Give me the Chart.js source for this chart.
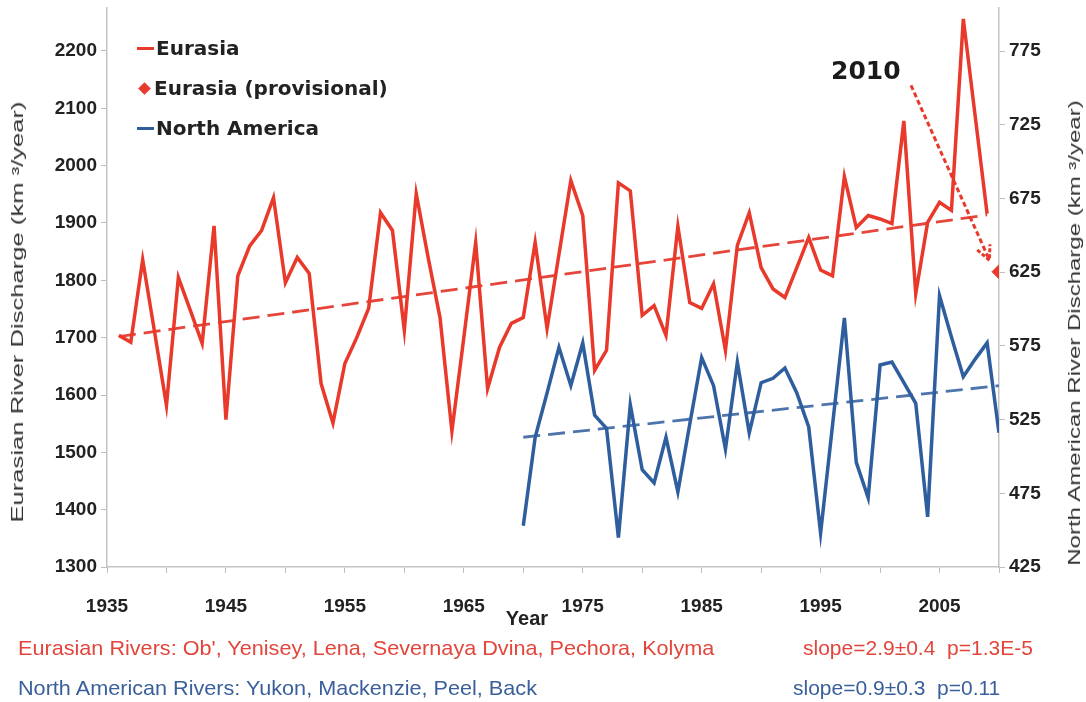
<!DOCTYPE html>
<html>
<head>
<meta charset="utf-8">
<script src="https://cdn.jsdelivr.net/npm/chart.js@4/dist/chart.umd.min.js"></script>
<style>
html,body{margin:0;padding:0;background:#fff;}
#wrap{position:relative;width:1086px;height:702px;overflow:hidden;background:#fff;}
#c{position:absolute;left:0;top:0;}
.t{position:absolute;white-space:nowrap;}
.leg{position:absolute;left:137px;font:bold 20px "DejaVu Sans",sans-serif;color:#222;display:flex;align-items:center;white-space:nowrap;transform:translateY(-50%);}
.sw{display:inline-block;width:17px;height:3px;margin-right:2px;}
.dia{display:inline-block;width:9px;height:9px;background:#e8392b;transform:rotate(45deg);margin:0 5px 0 3px;}
.ytitle{font:16px "Liberation Sans",Arial,sans-serif;color:#333;}
.cap{font:21px "Liberation Sans",Arial,sans-serif;transform-origin:0 50%;}
</style>
</head>
<body>
<div id="wrap">
  <canvas id="c" width="1086" height="702"></canvas>
  <div class="leg" style="top:48px"><span class="sw" style="background:#e8392b"></span>Eurasia</div>
  <div class="leg" style="top:88px"><span class="dia"></span>Eurasia (provisional)</div>
  <div class="leg" style="top:128px"><span class="sw" style="background:#2e5e9e"></span>North America</div>
  <div class="t ytitle" style="left:18px;top:312px;transform:translate(-50%,-50%) rotate(-90deg) scaleX(1.6)">Eurasian River Discharge (km ³/year)</div>
  <div class="t ytitle" style="left:1075px;top:333px;transform:translate(-50%,-50%) rotate(-90deg) scaleX(1.5)">North American River Discharge (km ³/year)</div>
  <div class="t" style="left:527px;top:618px;transform:translate(-50%,-50%);font:bold 20px 'Liberation Sans',Arial,sans-serif;color:#222">Year</div>
  <div class="t cap" style="left:18px;top:648px;color:#e2453b;transform:translateY(-50%) scaleX(1.03)">Eurasian Rivers: Ob', Yenisey, Lena, Severnaya Dvina, Pechora, Kolyma</div>
  <div class="t cap" style="left:803px;top:648px;color:#e2453b;transform:translateY(-50%)">slope=2.9±0.4&nbsp; p=1.3E-5</div>
  <div class="t cap" style="left:18px;top:688px;color:#3a5f9a;transform:translateY(-50%) scaleX(1.03)">North American Rivers: Yukon, Mackenzie, Peel, Back</div>
  <div class="t cap" style="left:793px;top:688px;color:#3a5f9a;transform:translateY(-50%)">slope=0.9±0.3&nbsp; p=0.11</div>
</div>
<script>
// ---- data ----
const eurasiaYears = [1936,1937,1938,1939,1940,1941,1942,1943,1944,1945,1946,1947,1948,1949,1950,1951,1952,1953,1954,1955,1956,1957,1958,1959,1960,1961,1962,1963,1964,1965,1966,1967,1968,1969,1970,1971,1972,1973,1974,1975,1976,1977,1978,1979,1980,1981,1982,1983,1984,1985,1986,1987,1988,1989,1990,1991,1992,1993,1994,1995,1996,1997,1998,1999,2000,2001,2002,2003,2004,2005,2006,2007,2008,2009];
const eurasiaValues = [1704,1692,1836,1710,1582,1805,1748,1690,1895,1557,1808,1860,1887,1944,1796,1840,1812,1620,1551,1655,1700,1751,1918,1887,1713,1951,1840,1735,1537,1700,1866,1611,1683,1725,1735,1866,1716,1845,1974,1913,1643,1678,1970,1956,1739,1756,1704,1894,1761,1751,1794,1678,1861,1918,1822,1785,1770,1822,1875,1818,1808,1981,1892,1913,1907,1899,2078,1777,1901,1936,1922,2256,2086,1916];
const provisionalYears = [2010];
const provisionalValues = [1815];
const eurasiaTrendYears = [1936, 2009];
const eurasiaTrendValues = [1702, 1914];

const naYears = [1970,1971,1972,1973,1974,1975,1976,1977,1978,1979,1980,1981,1982,1983,1984,1985,1986,1987,1988,1989,1990,1991,1992,1993,1994,1995,1996,1997,1998,1999,2000,2001,2002,2003,2004,2005,2006,2007,2008,2009,2010];
const naValues = [453,513,543,574,548,577,528,519,445,535,491,482,513,476,522,567,548,505,564,516,550,553,560,543,520,448,521,594,496,472,562,564,550,536,459,609,581,554,566,577,516];
const naTrendYears = [1970, 2010];
const naTrendValues = [513, 548];

const leftTicks = [1300,1400,1500,1600,1700,1800,1900,2000,2100,2200];
const rightTicks = [425,475,525,575,625,675,725,775];
const xLabelYears = [1935,1945,1955,1965,1975,1985,1995,2005];

// annotation anchor (data coords)
const noteText = '2010';
const noteAt = {year: 1998.8, value: 2163};
const arrowFrom = {year: 2002.6, value: 2140};
const arrowTo = {year: 2009.2, value: 1835};

const RED = '#e8392b', BLUE = '#2e5e9e';
const pts = (xs, ys) => xs.map((x, i) => ({x, y: ys[i]}));

const annot = {
  id: 'annot',
  afterDatasetsDraw(chart) {
    const {ctx, scales: {x, y}} = chart;
    ctx.save();
    ctx.font = 'bold 25px "DejaVu Sans", sans-serif';
    ctx.fillStyle = '#1a1a1a';
    ctx.textAlign = 'center';
    ctx.textBaseline = 'middle';
    ctx.fillText(noteText, x.getPixelForValue(noteAt.year), y.getPixelForValue(noteAt.value));
    const x0 = x.getPixelForValue(arrowFrom.year), y0 = y.getPixelForValue(arrowFrom.value);
    const x1 = x.getPixelForValue(arrowTo.year), y1 = y.getPixelForValue(arrowTo.value);
    ctx.strokeStyle = RED;
    ctx.lineWidth = 3;
    ctx.setLineDash([5, 3]);
    ctx.beginPath(); ctx.moveTo(x0, y0); ctx.lineTo(x1, y1); ctx.stroke();
    const a = Math.atan2(y1 - y0, x1 - x0), L = 16;
    ctx.setLineDash([4, 2]);
    ctx.beginPath();
    ctx.moveTo(x1 - L * Math.cos(a - 0.45), y1 - L * Math.sin(a - 0.45));
    ctx.lineTo(x1, y1);
    ctx.lineTo(x1 - L * Math.cos(a + 0.45), y1 - L * Math.sin(a + 0.45));
    ctx.stroke();
    ctx.restore();
  }
};

const tickFont = {family: '"Liberation Sans", Arial, sans-serif', size: 19, weight: 'bold'};
const axisGrid = {display: true, drawOnChartArea: false, drawTicks: true, tickLength: 6, color: '#bdbdbd'};
const axisBorder = {display: true, color: '#c4c4c4', width: 1.5};
const fitY = w => s => { s.width = w; s.paddingTop = 0; s.paddingBottom = 0; };

new Chart(document.getElementById('c'), {
  type: 'line',
  data: {
    datasets: [
      {label: 'Eurasia', data: pts(eurasiaYears, eurasiaValues), yAxisID: 'y', borderColor: RED, backgroundColor: RED, borderWidth: 3.5, pointRadius: 0, tension: 0},
      {label: 'Eurasia trend', data: pts(eurasiaTrendYears, eurasiaTrendValues), yAxisID: 'y', borderColor: '#e5453a', borderWidth: 2.8, borderDash: [17, 8], pointRadius: 0},
      {label: 'Eurasia (provisional)', data: pts(provisionalYears, provisionalValues), yAxisID: 'y', showLine: false, pointStyle: 'rectRot', pointRadius: 7, backgroundColor: RED, borderColor: RED},
      {label: 'North America', data: pts(naYears, naValues), yAxisID: 'y1', borderColor: BLUE, backgroundColor: BLUE, borderWidth: 3.5, pointRadius: 0, tension: 0},
      {label: 'North America trend', data: pts(naTrendYears, naTrendValues), yAxisID: 'y1', borderColor: '#4d74ab', borderWidth: 2.8, borderDash: [17, 8], pointRadius: 0}
    ]
  },
  options: {
    responsive: false,
    animation: false,
    devicePixelRatio: 1,
    layout: {padding: {top: 8, left: 0, right: 0, bottom: 0}},
    plugins: {legend: {display: false}, tooltip: {enabled: false}},
    scales: {
      x: {
        type: 'linear', min: 1935, max: 2010,
        grid: axisGrid, border: axisBorder,
        ticks: {
          stepSize: 5, autoSkip: false, maxRotation: 0, padding: 22, color: '#222', font: tickFont,
          callback: v => xLabelYears.includes(v) ? String(v) : ''
        },
        afterFit: s => { s.height = 135; s.paddingLeft = 0; s.paddingRight = 0; }
      },
      y: {
        type: 'linear', position: 'left', min: 1300, max: 2275,
        grid: axisGrid, border: axisBorder,
        ticks: {color: '#222', font: tickFont, padding: 4, callback: v => String(v)},
        afterBuildTicks: s => { s.ticks = leftTicks.map(v => ({value: v})); },
        afterFit: fitY(107)
      },
      y1: {
        type: 'linear', position: 'right', min: 425, max: 425 + 975 * 350 / 900,
        grid: axisGrid, border: axisBorder,
        ticks: {color: '#222', font: tickFont, padding: 4, callback: v => String(v)},
        afterBuildTicks: s => { s.ticks = rightTicks.map(v => ({value: v})); },
        afterFit: fitY(87)
      }
    }
  },
  plugins: [annot]
});
</script>
</body>
</html>
